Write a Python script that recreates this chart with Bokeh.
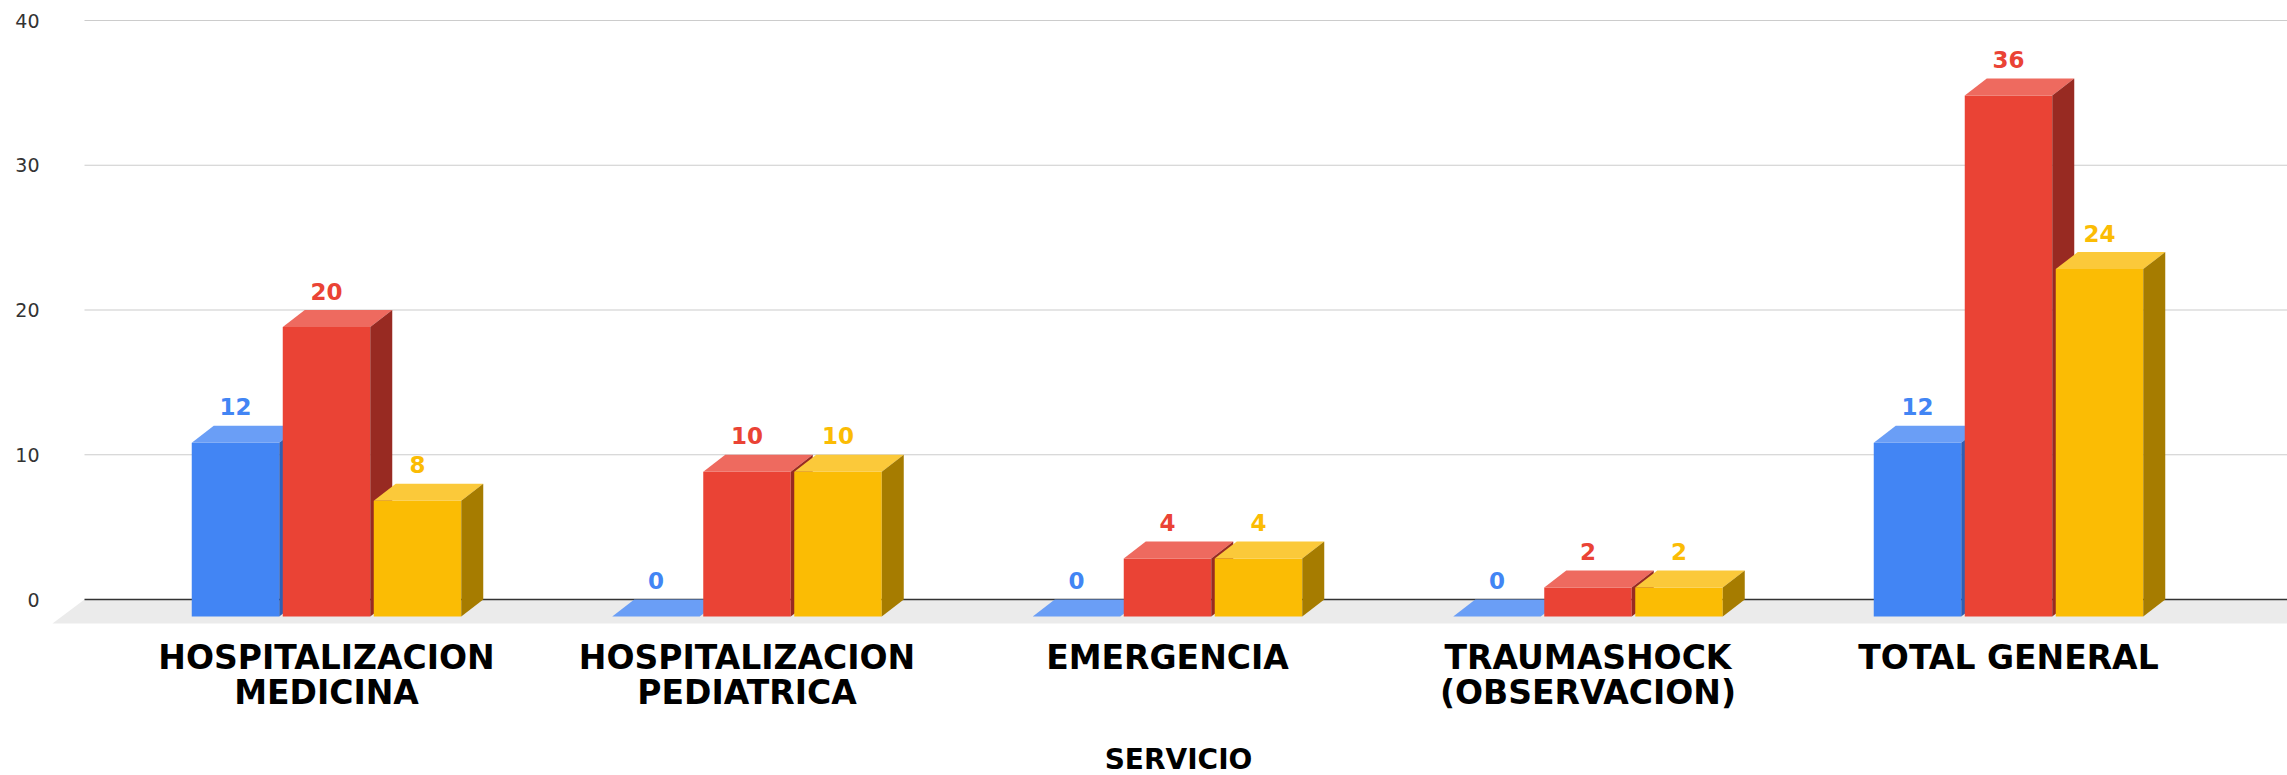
from bokeh.plotting import figure
from bokeh.models import Range1d, FixedTicker
from bokeh.embed import file_html
from bokeh.resources import INLINE
from bokeh.core.properties import value

# ---------------- data ----------------
categories = ["HOSPITALIZACION\nMEDICINA", "HOSPITALIZACION\nPEDIATRICA",
              "EMERGENCIA", "TRAUMASHOCK\n(OBSERVACION)", "TOTAL GENERAL"]
serie_azul = [12, 0, 0, 0, 12]
serie_roja = [20, 10, 4, 2, 36]
serie_amarilla = [8, 10, 4, 2, 24]
y_ticks = [0, 10, 20, 30, 40]
x_title = "SERVICIO"

# ---------------- styles ----------------
series = [
    (serie_azul, "#4285F4", "#6A9EF6", "#2F5FB3"),
    (serie_roja, "#EA4335", "#EE6A5F", "#982A22"),
    (serie_amarilla, "#FBBC04", "#FBC93A", "#A67C00"),
]
FONT = value("DejaVu Sans")

# ---------------- layout (pixels) ----------------
W, H = 2287, 775
FRAME_LEFT = 50
X0 = 326.0          # px of first group's centre
GROUP_PX = 420.5    # px between groups
Y0 = 599.0          # px of zero line
UNIT_PX = 14.475    # px per value unit
BAR_PX = 87.5
STEP_PX = 91.0
DEPTH_X_PX = 22.0
DEPTH_Y_PX = 17.0
FLOOR_X_PX = 32.0
FLOOR_Y_PX = 24.0
GRID_LEFT_PX = 84.0

x_start = (FRAME_LEFT - X0) / GROUP_PX
x_end = x_start + (W - FRAME_LEFT) / GROUP_PX
y_end = Y0 / UNIT_PX
y_start = -(H - Y0) / UNIT_PX

bw = BAR_PX / GROUP_PX
step = STEP_PX / GROUP_PX
dx = DEPTH_X_PX / GROUP_PX
dy = DEPTH_Y_PX / UNIT_PX
fdx = FLOOR_X_PX / GROUP_PX
fdy = FLOOR_Y_PX / UNIT_PX
grid_left = (GRID_LEFT_PX - X0) / GROUP_PX

p = figure(width=W, height=H, output_backend="svg", toolbar_location=None,
           x_range=Range1d(x_start, x_end), y_range=Range1d(y_start, y_end),
           x_axis_location=None, min_border_left=FRAME_LEFT, min_border_right=0,
           min_border_top=0, min_border_bottom=0)
p.outline_line_color = None
p.xgrid.visible = False
p.ygrid.visible = False
p.background_fill_color = "white"
p.border_fill_color = "white"

ax = p.yaxis[0]
ax.ticker = FixedTicker(ticks=y_ticks)
ax.axis_line_color = None
ax.major_tick_line_color = None
ax.minor_tick_line_color = None
ax.major_tick_out = 0
ax.major_tick_in = 0
ax.major_label_standoff = 11
ax.major_label_text_font = "DejaVu Sans"
ax.major_label_text_font_size = "19px"
ax.major_label_text_color = "#333333"

# floor
p.patch([grid_left, x_end + 1, x_end + 1 - fdx, grid_left - fdx],
        [0, 0, -fdy, -fdy], fill_color="#EBEBEB", line_color=None)

# grid lines
gl = [t for t in y_ticks if t != 0]
p.segment(x0=[grid_left] * len(gl), x1=[x_end] * len(gl), y0=gl, y1=gl,
          line_color="#CCCCCC", line_width=1.2)
p.segment(x0=[grid_left], x1=[x_end], y0=[0], y1=[0], line_color="#333333", line_width=1.6)

# bars
n = len(categories)
for s, (vals, c_front, c_top, c_side) in enumerate(series):
    off = (s - 1) * step
    cs = [i + off for i in range(n)]
    lefts = [c - bw / 2 for c in cs]
    rights = [c + bw / 2 for c in cs]
    p.quad(left=lefts, right=rights, bottom=[-dy] * n, top=[v - dy for v in vals],
           fill_color=c_front, line_color=None)
    top_xs = [[l, r, r + dx, l + dx] for l, r in zip(lefts, rights)]
    top_ys = [[v - dy, v - dy, v, v] for v in vals]
    p.patches(top_xs, top_ys, fill_color=c_top, line_color=None)
    side_xs = [[r, r + dx, r + dx, r] for r in rights]
    side_ys = [[-dy, 0, v, v - dy] for v in vals]
    p.patches(side_xs, side_ys, fill_color=c_side, line_color=None)
    p.text(x=cs, y=vals, text=[str(v) for v in vals], text_font=FONT,
           text_font_style="bold", text_font_size="23px", text_color=c_front,
           text_align="center", text_baseline="alphabetic", y_offset=-19)

# category labels
lines = [c.split("\n") for c in categories]
for k, yo in enumerate([58, 93]):
    xs = [i for i, ln in enumerate(lines) if len(ln) > k]
    tx = [ln[k] for ln in lines if len(ln) > k]
    p.text(x=xs, y=[0] * len(xs), text=tx, text_font=FONT, text_font_style="bold",
           text_font_size="33px", text_color="#000000", text_align="center",
           text_baseline="alphabetic", y_offset=yo)

# axis title
p.text(x=[(n - 1) / 2], y=[0], text=[x_title], text_font=FONT, text_font_style="bold",
       text_font_size="28px", text_color="#000000", text_align="center",
       text_baseline="alphabetic", x_offset=11, y_offset=160)

open("out.html", "w").write(file_html(p, INLINE))
